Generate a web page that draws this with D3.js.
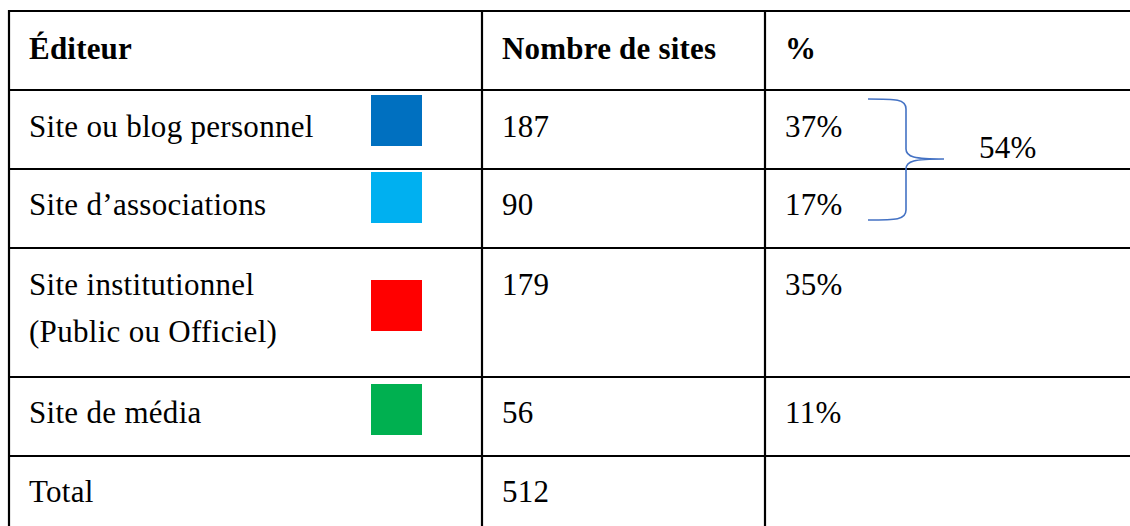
<!DOCTYPE html>
<html>
<head>
<meta charset="utf-8">
<script src="https://cdn.jsdelivr.net/npm/d3@7"></script>
<style>
  html, body { margin: 0; padding: 0; background: #fff; }
  svg { display: block; }
</style>
</head>
<body>
<script>
// table content
var headers = ["Éditeur", "Nombre de sites", "%"];
var categories = [["Site ou blog personnel"], ["Site d\u2019associations"], ["Site institutionnel", "(Public ou Officiel)"], ["Site de média"]];
var counts = [187, 90, 179, 56];
var percents = ["37%", "17%", "35%", "11%"];
var colors = ["#0070C0", "#00B0F0", "#FF0000", "#00B050"];
var totalLabel = "Total";
var total = 512;
var groupLabel = "54%";

var w = 1130, h = 526;
var font = "'Liberation Serif', 'Times New Roman', serif";
var fontSize = 31;

var svg = d3.select("body").append("svg")
    .attr("width", w)
    .attr("height", h);

// grid geometry
var colX = [9, 482, 765, 1140];
var rowY = [11, 90, 169, 248, 377, 456, 540];
var textPad = 20;

// grid lines
var g = svg.append("g").attr("stroke", "#000").attr("stroke-width", 2.2);
rowY.slice(0, -1).forEach(function (y) {
    g.append("line").attr("x1", colX[0] - 1).attr("x2", w + 5).attr("y1", y).attr("y2", y);
});
colX.slice(0, -1).forEach(function (x) {
    g.append("line").attr("x1", x).attr("x2", x).attr("y1", rowY[0] - 1).attr("y2", h + 5);
});

function txt(x, y, s, bold) {
    return svg.append("text")
        .attr("x", x).attr("y", y)
        .attr("font-family", font)
        .attr("font-size", fontSize)
        .attr("font-weight", bold ? "bold" : "normal")
        .attr("letter-spacing", bold ? 0.2 : 0.3)
        .attr("fill", "#000")
        .text(s);
}

// header
headers.forEach(function (hd, i) {
    txt(colX[i] + textPad, 59, hd, true);
});

// baselines for body rows
var baselines = [137, 215, 295, 423];
var lineGap = 47;
var squareTop = [95, 172, 280, 384];

categories.forEach(function (lines, i) {
    lines.forEach(function (l, j) {
        txt(colX[0] + textPad, baselines[i] + j * lineGap, l, false);
    });
    txt(colX[1] + textPad, baselines[i], counts[i], false);
    txt(colX[2] + textPad, baselines[i], percents[i], false);
});

svg.selectAll("rect.swatch")
    .data(colors)
    .enter()
    .append("rect")
    .attr("class", "swatch")
    .attr("x", 371)
    .attr("y", function (d, i) { return squareTop[i]; })
    .attr("width", 51)
    .attr("height", 51)
    .attr("fill", function (d) { return d; });

// total row
txt(colX[0] + textPad, 502, totalLabel, false);
txt(colX[1] + textPad, 502, total, false);

// curly brace grouping the first two rows
var bx = 906, bTop = 99, bBot = 220, bMid = 159, bLeft = 868, bTip = 944;
var p = d3.path();
p.moveTo(bLeft, bTop);
p.bezierCurveTo(bx - 10, bTop, bx, bTop, bx, bTop + 10);
p.lineTo(bx, bMid - 10);
p.bezierCurveTo(bx, bMid - 2, bx + 8, bMid, bTip, bMid);
p.moveTo(bTip, bMid);
p.bezierCurveTo(bx + 8, bMid, bx, bMid + 2, bx, bMid + 10);
p.lineTo(bx, bBot - 10);
p.bezierCurveTo(bx, bBot, bx - 10, bBot, bLeft, bBot);
svg.append("path")
    .attr("d", p.toString())
    .attr("fill", "none")
    .attr("stroke", "#4472C4")
    .attr("stroke-width", 1.6);

txt(979, 158, groupLabel, false);
</script>
</body>
</html>
